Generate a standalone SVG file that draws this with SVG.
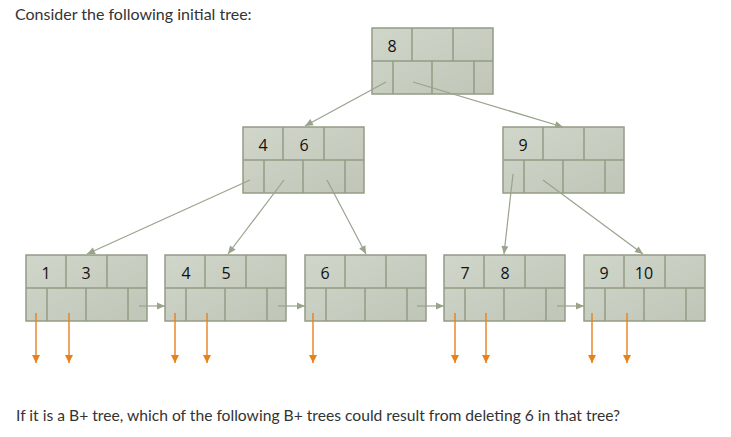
<svg xmlns="http://www.w3.org/2000/svg" xmlns:xlink="http://www.w3.org/1999/xlink" width="731" height="437" viewBox="0 0 731 437">
<style>
.bg{fill:#ffffff}
.cell{fill:url(#ng);stroke:#939c85;stroke-width:1.5}
.div{stroke:#939c85;stroke-width:1.5;fill:none}
.key{font-family:"Open Sans","Liberation Sans",sans-serif;font-size:16px;fill:#111;text-anchor:middle}
.q{font-family:Lato,"Liberation Sans",sans-serif;font-size:16px;fill:#333}
.conn{stroke:#9aa38c;stroke-width:1.2;fill:none;marker-end:url(#ga)}
.ptr{stroke:#e8811c;stroke-width:1.4;fill:none;marker-end:url(#oa)}
</style>
<defs>
<linearGradient id="ng" x1="0" y1="0" x2="1" y2="1">
<stop offset="0" stop-color="#d0d6c9"/>
<stop offset="1" stop-color="#bfc6b8"/>
</linearGradient>
<marker id="ga" markerUnits="userSpaceOnUse" markerWidth="10" markerHeight="10" viewBox="0 0 10 10" refX="9" refY="5" orient="auto">
<path d="M1,1.5 L9,5 L1,8.5 Z" fill="#9aa38c"/>
</marker>
<marker id="oa" markerUnits="userSpaceOnUse" markerWidth="10" markerHeight="10" viewBox="0 0 10 10" refX="9" refY="5" orient="auto">
<path d="M1,1 L9,5 L1,9 Z" fill="#e8811c"/>
</marker>
<g id="nd">
<rect class="cell" x="0" y="0" width="121" height="66"/>
<path class="div" d="M0,33 H121 M40,0 V33 M81,0 V33 M21,33 V66 M60,33 V66 M102,33 V66"/>
</g>
</defs>
<rect class="bg" x="0" y="0" width="731" height="437"/>
<text class="q" x="15" y="20">Consider the following initial tree:</text>

<g id="root"><use xlink:href="#nd" x="372" y="28"/><text class="key" x="392" y="52">8</text></g>
<g id="int46"><use xlink:href="#nd" x="243" y="127"/><text class="key" x="263" y="151">4</text><text class="key" x="304" y="151">6</text></g>
<g id="int9"><use xlink:href="#nd" x="503" y="127"/><text class="key" x="523" y="151">9</text></g>
<g id="leaf13"><use xlink:href="#nd" x="26" y="255"/><text class="key" x="46" y="279">1</text><text class="key" x="86" y="279">3</text></g>
<g id="leaf45"><use xlink:href="#nd" x="165" y="255"/><text class="key" x="186" y="279">4</text><text class="key" x="226" y="279">5</text></g>
<g id="leaf6"><use xlink:href="#nd" x="305" y="255"/><text class="key" x="325" y="279">6</text></g>
<g id="leaf78"><use xlink:href="#nd" x="444" y="255"/><text class="key" x="465" y="279">7</text><text class="key" x="505" y="279">8</text></g>
<g id="leaf910"><use xlink:href="#nd" x="584" y="255"/><text class="key" x="604" y="279">9</text><text class="key" x="644" y="279">10</text></g>

<g id="connectors">
<line class="conn" x1="386" y1="82" x2="305" y2="126"/>
<line class="conn" x1="413" y1="82" x2="563" y2="127"/>
<line class="conn" x1="250" y1="180" x2="87" y2="254"/>
<line class="conn" x1="284" y1="180" x2="228" y2="254"/>
<line class="conn" x1="327" y1="180" x2="366" y2="254"/>
<line class="conn" x1="513" y1="174" x2="504" y2="254"/>
<line class="conn" x1="543" y1="180" x2="643" y2="254"/>
<line class="conn" x1="139" y1="306" x2="165" y2="306"/>
<line class="conn" x1="278" y1="306" x2="305" y2="306"/>
<line class="conn" x1="417" y1="306" x2="444" y2="306"/>
<line class="conn" x1="557" y1="306" x2="584" y2="306"/>
<line class="ptr" x1="36" y1="313" x2="36" y2="363"/>
<line class="ptr" x1="69" y1="313" x2="69" y2="363"/>
<line class="ptr" x1="175" y1="313" x2="175" y2="363"/>
<line class="ptr" x1="207" y1="313" x2="207" y2="363"/>
<line class="ptr" x1="313" y1="313" x2="313" y2="363"/>
<line class="ptr" x1="455" y1="313" x2="455" y2="363"/>
<line class="ptr" x1="486" y1="313" x2="486" y2="363"/>
<line class="ptr" x1="592" y1="313" x2="592" y2="363"/>
<line class="ptr" x1="627" y1="313" x2="627" y2="363"/>
</g>

<text class="q" x="16" y="421" style="font-size:15.65px">If it is a B+ tree, which of the following B+ trees could result from deleting 6 in that tree?</text>
</svg>
